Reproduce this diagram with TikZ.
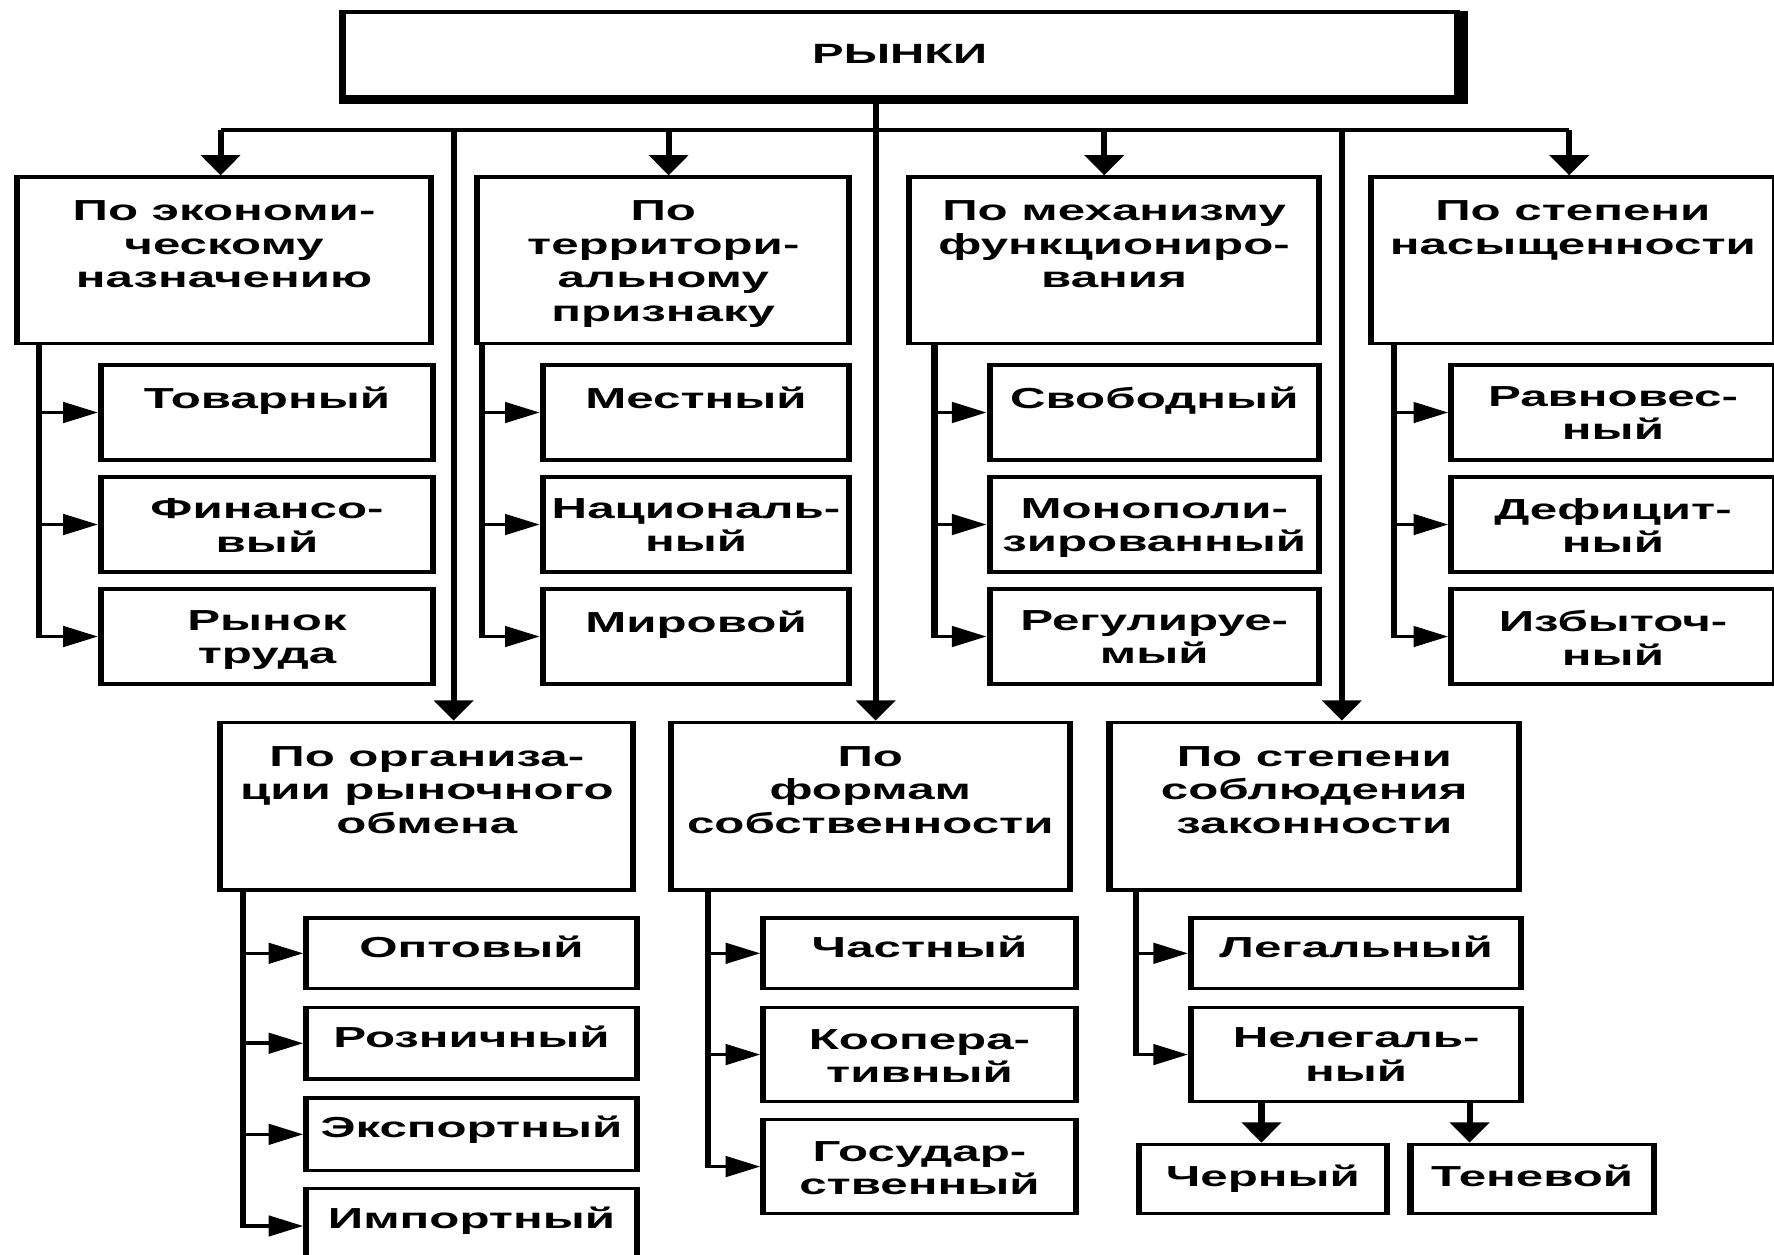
\documentclass[tikz,border=0pt]{standalone}
\usepackage{fontspec}
\setmainfont{Liberation Sans}
\usetikzlibrary{arrows.meta}
\tikzset{
  bx/.style={draw, line width=1.6pt, inner sep=0pt, anchor=north west, font=\bfseries\fontsize{12.8}{14.8}\selectfont},
  ln/.style={line width=1.6pt},
  darr/.style={ln, -{Triangle[length=9pt,width=10pt]}},
  rarr/.style={ln, -{Triangle[length=9pt,width=9pt]}},
}
\newcommand\mkbox[7]{\node[bx] (#1) at (#2,#3) {\parbox[c][\dimexpr(#5pt-#3pt)/2\relax][t]{\dimexpr(#4pt-#2pt)*5/17\relax}{\centering\vspace*{#6pt}#7\par}};}
\begin{document}
\begin{tikzpicture}
\path[fill=white, use as bounding box] (0,0) rectangle (784pt,-554.5pt);
\begin{scope}[transform canvas={xscale=1.7}, x=0.294118pt, y=-0.5pt]
% top
\node[bx, minimum width=289.7pt, minimum height=37.5pt, font=\bfseries\fontsize{12.3}{14}\selectfont] (top) at (300,9) {РЫНКИ};
\draw[line width=2.6pt] ([xshift=0.9pt,yshift=-0.5pt]top.north east) -- ([xshift=0.9pt,yshift=-1pt]top.south east) -- ([yshift=-1pt]top.south west);
% row 1 headers
\mkbox{b1}{12.6}{155}{378}{302}{10.5}{По экономи-\\ческому\\назначению}
\mkbox{b2}{419}{155}{748}{302}{10.5}{По\\территори-\\альному\\признаку}
\mkbox{b3}{801}{155}{1163}{302}{10.5}{По механизму\\функциониро-\\вания}
\mkbox{b4}{1209}{155}{1566}{302}{10.5}{По степени\\насыщенности}
% row 1 subs
\mkbox{s11}{86.5}{321}{380}{405}{9.5}{Товарный}
\mkbox{s12}{86.5}{420}{380}{504}{9.5}{Финансо-\\вый}
\mkbox{s13}{86.5}{519}{380}{603}{9.5}{Рынок\\труда}
\mkbox{s21}{477}{321}{748}{405}{9.5}{Местный}
\mkbox{s22}{477}{420}{748}{504}{9.5}{Националь-\\ный}
\mkbox{s23}{477}{519}{748}{603}{9.5}{Мировой}
\mkbox{s31}{872}{321}{1163}{405}{9.5}{Свободный}
\mkbox{s32}{872}{420}{1163}{504}{9.5}{Монополи-\\зированный}
\mkbox{s33}{872}{519}{1163}{603}{9.5}{Регулируе-\\мый}
\mkbox{s41}{1280}{321}{1566}{405}{9.5}{Равновес-\\ный}
\mkbox{s42}{1280}{420}{1566}{504}{9.5}{Дефицит-\\ный}
\mkbox{s43}{1280}{519}{1566}{603}{9.5}{Избыточ-\\ный}
% row 2 headers
\mkbox{b5}{192}{637}{557}{785}{10.5}{По организа-\\ции рыночного\\обмена}
\mkbox{b6}{590}{637}{943}{785}{10.5}{По\\формам\\собственности}
\mkbox{b7}{978}{637}{1340}{785}{10.5}{По степени\\соблюдения\\законности}
% row 2 subs
\mkbox{s51}{268}{810}{560}{872}{8}{Оптовый}
\mkbox{s52}{268}{889}{560}{952}{8}{Розничный}
\mkbox{s53}{268}{969}{560}{1033}{8}{Экспортный}
\mkbox{s54}{268}{1049}{560}{1115}{8}{Импортный}
\mkbox{s61}{672}{810}{948}{872}{8}{Частный}
\mkbox{s62}{672}{889}{948}{972}{9.5}{Коопера-\\тивный}
\mkbox{s63}{672}{988}{948}{1071}{9.5}{Государ-\\ственный}
\mkbox{s71}{1050}{810}{1342}{872}{8}{Легальный}
\mkbox{s72}{1050}{889}{1342}{972}{9}{Нелегаль-\\ный}
\mkbox{ch}{1004}{1010}{1223}{1071}{9}{Черный}
\mkbox{te}{1244}{1010}{1459}{1071}{9}{Теневой}
% connectors
\coordinate (a1) at (195,115);
\coordinate (a2) at (591,115);
\coordinate (a3) at (976,115);
\coordinate (a4) at (1387,115);
\coordinate (v1) at (401,115);
\coordinate (v2) at (1186,115);
\coordinate (tr) at (774,115);
\draw[ln] (a1) -- (a4);
\draw[darr] (a1) -- (a1 |- b1.north);
\draw[darr] (a2) -- (a2 |- b2.north);
\draw[darr] (a3) -- (a3 |- b3.north);
\draw[darr] (a4) -- (a4 |- b4.north);
\draw[ln] (top.south -| tr) -- (tr);
\draw[darr] (tr) -- (tr |- b6.north);
\draw[darr] (v1) -- (v1 |- b5.north);
\draw[darr] (v2) -- (v2 |- b7.north);
\coordinate (k1) at (34.5,0);
\coordinate (k2) at (426,0);
\coordinate (k3) at (826,0);
\coordinate (k4) at (1232,0);
\coordinate (k5) at (215,0);
\coordinate (k6) at (626,0);
\coordinate (k7) at (1004,0);
\foreach \b/\k/\s in {b1/k1/s11,b1/k1/s12,b1/k1/s13,b2/k2/s21,b2/k2/s22,b2/k2/s23,b3/k3/s31,b3/k3/s32,b3/k3/s33,b4/k4/s41,b4/k4/s42,b4/k4/s43,b5/k5/s51,b5/k5/s52,b5/k5/s53,b5/k5/s54,b6/k6/s61,b6/k6/s62,b6/k6/s63,b7/k7/s71,b7/k7/s72}
  \draw[rarr] (\b.south -| \k) |- (\s.west);
\coordinate (d1) at (1115,0);
\coordinate (d2) at (1299,0);
\draw[darr] (s72.south -| d1) -- (d1 |- ch.north);
\draw[darr] (s72.south -| d2) -- (d2 |- te.north);
\end{scope}
\end{tikzpicture}
\end{document}
